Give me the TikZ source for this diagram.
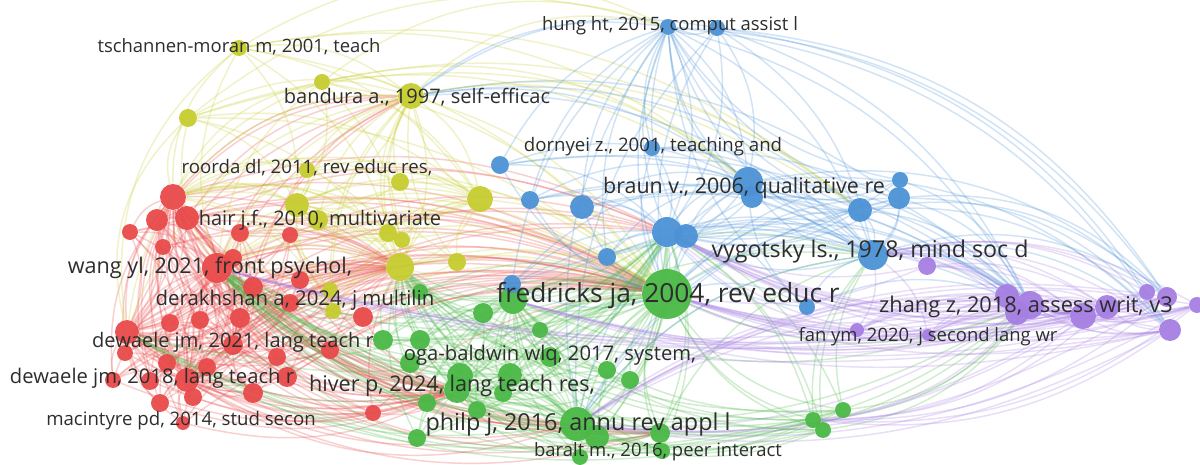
\documentclass[tikz,border=0pt]{standalone}
\usepackage{fontspec}
\setmainfont{Open Sans}
\usetikzlibrary{backgrounds}
\definecolor{rc}{RGB}{232,74,74}
\definecolor{yc}{RGB}{198,204,46}
\definecolor{gc}{RGB}{74,184,70}
\definecolor{bc}{RGB}{76,146,214}
\definecolor{pc}{RGB}{166,126,226}
\definecolor{labc}{RGB}{45,45,45}
\tikzset{
  dot/.style 2 args={circle, inner sep=0pt, minimum size=#2*0.04cm, fill=#1, fill opacity=0.95},
  rn/.style={dot={rc}{#1}},
  yn/.style={dot={yc}{#1}},
  gn/.style={dot={gc}{#1}},
  bn/.style={dot={bc}{#1}},
  pn/.style={dot={pc}{#1}},
  link/.style={draw=#1, draw opacity=0.26, line width=0.85pt},
  lab/.style={font=\fontsize{#1}{#1}\selectfont, text=labc, inner sep=0pt, anchor=center},
}
\begin{document}
\begin{tikzpicture}[x=0.02cm, y=-0.02cm]
\useasboundingbox (0,0) rectangle (1200,465);

% ---------- red cluster ----------
\node[rn=13] (r1) at (173,197) {};
\node[rn=11] (r2) at (157,220) {};
\node[rn=12] (r3) at (187,218) {};
\node[rn=8]  (r4) at (130,232) {};
\node[rn=8]  (r5) at (163,247) {};
\node[rn=9]  (r6) at (240,233) {};
\node[rn=8]  (r7) at (290,235) {};
\node[rn=15] (r8) at (217,268) {};
\node[rn=9]  (r9) at (233,258) {};
\node[rn=10] (r10) at (253,287) {};
\node[rn=9]  (r11) at (300,280) {};
\node[rn=9]  (r12) at (290,303) {};
\node[rn=10] (r13) at (363,317) {};
\node[rn=9]  (r14) at (170,323) {};
\node[rn=9]  (r15) at (200,320) {};
\node[rn=10] (r16) at (240,318) {};
\node[rn=12] (r17) at (127,332) {};
\node[rn=8]  (r18) at (125,353) {};
\node[rn=10] (r19) at (233,345) {};
\node[rn=9]  (r20) at (277,357) {};
\node[rn=9]  (r21) at (330,350) {};
\node[rn=9]  (r22) at (167,363) {};
\node[rn=9]  (r23) at (207,367) {};
\node[rn=8]  (r24) at (113,380) {};
\node[rn=9]  (r25) at (150,381) {};
\node[rn=12] (r26) at (187,380) {};
\node[rn=10] (r27) at (253,393) {};
\node[rn=10] (r28) at (287,377) {};
\node[rn=9]  (r29) at (160,403) {};
\node[rn=9]  (r30) at (193,397) {};
\node[rn=8]  (r31) at (373,413) {};
\node[rn=7]  (r32) at (183,423) {};

% ---------- yellow cluster ----------
\node[yn=8]  (y1) at (239,48) {};
\node[yn=8]  (y2) at (322,82) {};
\node[yn=13] (y3) at (411,96) {};
\node[yn=9]  (y4) at (188,118) {};
\node[yn=8]  (y5) at (307,170) {};
\node[yn=9]  (y6) at (400,182) {};
\node[yn=13] (y7) at (480,199) {};
\node[yn=12] (y8) at (297,205) {};
\node[yn=10] (y9) at (318,220) {};
\node[yn=9]  (y10) at (388,233) {};
\node[yn=8]  (y11) at (402,240) {};
\node[yn=14] (y12) at (400,267) {};
\node[yn=9]  (y13) at (457,262) {};
\node[yn=8]  (y14) at (330,290) {};
\node[yn=8]  (y15) at (333,311) {};

% ---------- green cluster ----------
\node[gn=25] (g1) at (667,294) {};
\node[gn=14] (g2) at (513,300) {};
\node[gn=10] (g3) at (483,313) {};
\node[gn=8]  (g4) at (420,292) {};
\node[gn=10] (g5) at (383,340) {};
\node[gn=10] (g6) at (420,340) {};
\node[gn=10] (g7) at (410,363) {};
\node[gn=13] (g8) at (460,376) {};
\node[gn=13] (g9) at (457,390) {};
\node[gn=12] (g10) at (510,375) {};
\node[gn=9]  (g11) at (503,393) {};
\node[gn=10] (g12) at (550,357) {};
\node[gn=9]  (g13) at (607,370) {};
\node[gn=9]  (g14) at (630,380) {};
\node[gn=9]  (g15) at (427,403) {};
\node[gn=9]  (g16) at (477,410) {};
\node[gn=17] (g17) at (577,424) {};
\node[gn=12] (g18) at (597,437) {};
\node[gn=9]  (g19) at (417,438) {};
\node[gn=10] (g20) at (660,433) {};
\node[gn=8]  (g21) at (662,451) {};
\node[gn=8]  (g22) at (580,457) {};
\node[gn=8]  (g23) at (813,420) {};
\node[gn=8]  (g24) at (823,430) {};
\node[gn=8]  (g25) at (843,410) {};
\node[gn=8]  (g26) at (540,330) {};

% ---------- blue cluster ----------
\node[bn=8]  (b1) at (668,27) {};
\node[bn=8]  (b2) at (717,28) {};
\node[bn=8]  (b3) at (652,148) {};
\node[bn=9]  (b4) at (500,165) {};
\node[bn=9]  (b5) at (530,200) {};
\node[bn=12] (b6) at (582,207) {};
\node[bn=15] (b7) at (748,182) {};
\node[bn=11] (b8) at (752,197) {};
\node[bn=15] (b9) at (667,232) {};
\node[bn=12] (b10) at (686,236) {};
\node[bn=9]  (b11) at (607,257) {};
\node[bn=12] (b12) at (860,210) {};
\node[bn=8]  (b13) at (900,180) {};
\node[bn=11] (b14) at (899,198) {};
\node[bn=15] (b15) at (873,255) {};
\node[bn=8]  (b16) at (807,307) {};
\node[bn=9]  (b17) at (512,284) {};

% ---------- purple cluster ----------
\node[pn=9]  (p1) at (927,266) {};
\node[pn=12] (p2) at (1007,296) {};
\node[pn=14] (p3) at (1030,305) {};
\node[pn=12] (p4) at (1017,313) {};
\node[pn=13] (p5) at (1083,316) {};
\node[pn=12] (p6) at (1107,307) {};
\node[pn=8]  (p7) at (1147,292) {};
\node[pn=10] (p8) at (1167,297) {};
\node[pn=11] (p9) at (1170,330) {};
\node[pn=8]  (p10) at (1197,305) {};
\node[pn=6]  (p11) at (928,335) {};
\node[pn=7]  (p12) at (857,330) {};

% ---------- links, behind the nodes ----------
\begin{pgfonlayer}{background}
% red: every item to the red hubs, then out to the other clusters
\foreach \s in {r1,r2,r3,r4,r5,r6,r7,r8,r9,r10,r11,r12,r13,r14,r15,r16,r17,r18,r19,r20,r21,r22,r23,r24,r25,r26,r27,r28,r29,r30,r31,r32}{
  \foreach \t in {r8,r1,r17,r26,r19}{
    \ifx\s\t\else\draw[link=rc] (\s) to[bend left=22] (\t);\fi
  }
  \draw[link=rc] (\s) to[bend left=18] (y12);
  \draw[link=rc] (\s) to[bend left=20] (g1);
  \draw[link=rc] (g9) to[bend left=20] (\s);
}
\foreach \s in {r1,r3,r8,r17,r26,r19,r10,r2}{
  \draw[link=rc] (\s) to[bend left=25] (y3);
  \draw[link=rc] (\s) to[bend left=22] (b9);
  \draw[link=rc] (g17) to[bend left=25] (\s);
  \draw[link=rc] (g20) to[bend left=22] (\s);
}
% yellow
\foreach \s in {y1,y2,y3,y4,y5,y6,y7,y8,y9,y10,y11,y12,y13,y14,y15}{
  \foreach \t in {y3,y12,y8,y7}{
    \ifx\s\t\else\draw[link=yc] (\s) to[bend left=22] (\t);\fi
  }
  \draw[link=yc] (\s) to[bend left=20] (g1);
  \draw[link=yc] (r8) to[bend left=22] (\s);
  \draw[link=yc] (r1) to[bend left=25] (\s);
}
\foreach \s in {y1,y2,y3,y4}{
  \draw[link=yc] (\s) to[bend left=28] (b1);
  \draw[link=yc] (\s) to[bend left=25] (b7);
  \draw[link=yc] (\s) to[bend left=25] (b12);
  \draw[link=yc] (r17) to[bend left=30] (\s);
}
% green
\foreach \s in {g1,g2,g3,g4,g5,g6,g7,g8,g9,g10,g11,g12,g13,g14,g15,g16,g17,g18,g19,g20,g21,g22,g23,g24,g25,g26}{
  \foreach \t in {g1,g17,g2,g9}{
    \ifx\s\t\else\draw[link=gc] (\s) to[bend left=22] (\t);\fi
  }
  \draw[link=gc] (\s) to[bend left=20] (y12);
  \draw[link=gc] (\s) to[bend left=20] (r8);
  \draw[link=gc] (b9) to[bend left=20] (\s);
}
\foreach \s in {g1,g17,g2,g9,g20,g23,g24,g25}{
  \draw[link=gc] (\s) to[bend left=22] (b15);
  \draw[link=gc] (p3) to[bend left=22] (\s);
  \draw[link=gc] (\s) to[bend left=20] (r17);
}
% blue
\foreach \s in {b1,b2,b3,b4,b5,b6,b7,b8,b9,b10,b11,b12,b13,b14,b15,b16,b17}{
  \foreach \t in {b7,b9,b15,b1}{
    \ifx\s\t\else\draw[link=bc] (\s) to[bend left=22] (\t);\fi
  }
  \draw[link=bc] (g1) to[bend left=20] (\s);
  \draw[link=bc] (\s) to[bend left=22] (p3);
}
\foreach \s in {b1,b2,b7,b12,b14,b15}{
  \draw[link=bc] (\s) to[bend left=25] (p8);
  \draw[link=bc] (\s) to[bend left=25] (p9);
  \draw[link=bc] (g17) to[bend left=22] (\s);
  \draw[link=bc] (y3) to[bend left=22] (\s);
}
% purple
\foreach \s in {p1,p2,p3,p4,p5,p6,p7,p8,p9,p10,p11,p12}{
  \foreach \t in {p3,p5,p6,p2}{
    \ifx\s\t\else\draw[link=pc] (\s) to[bend left=18] (\t);\fi
  }
  \draw[link=pc] (\s) to[bend left=15] (g1);
  \draw[link=pc] (b15) to[bend left=20] (\s);
  \draw[link=pc] (\s) to[bend left=18] (b9);
}
\foreach \s in {p3,p5,p6,p8,p9,p10}{
  \draw[link=pc] (\s) to[bend left=15] (g2);
  \draw[link=pc] (\s) to[bend left=12] (r8);
  \draw[link=pc] (g17) to[bend left=20] (\s);
  \draw[link=pc] (\s) to[bend left=18] (g17);
  \draw[link=pc] (\s) to[bend left=20] (g23);
}
\end{pgfonlayer}

% ---------- labels ----------
\node[lab=10.5] (l-tsch) at (239,47)  {tschannen-moran m, 2001, teach};
\node[lab=11.4] (l-band) at (417,97)  {bandura a., 1997, self-efficac};
\node[lab=10.5] (l-hung) at (670,26)  {hung ht, 2015, comput assist l};
\node[lab=10.6] (l-dorn) at (653,147) {dornyei z., 2001, teaching and};
\node[lab=10.6] (l-roor) at (307,168) {roorda dl, 2011, rev educ res,};
\node[lab=12.2] (l-brau) at (744,188) {braun v., 2006, qualitative re};
\node[lab=11.4] (l-hair) at (320,220) {hair j.f., 2010, multivariate};
\node[lab=13.2] (l-vygo) at (870,251) {vygotsky ls., 1978, mind soc d};
\node[lab=12.3] (l-wang) at (210,268) {wang yl, 2021, front psychol,};
\node[lab=15]   (l-fred) at (668,296) {fredricks ja, 2004, rev educ r};
\node[lab=12.4] (l-zhan) at (1026,307) {zhang z, 2018, assess writ, v3};
\node[lab=11.6] (l-dera) at (295,300) {derakhshan a, 2024, j multilin};
\node[lab=10.5] (l-fan)  at (928,337) {fan ym, 2020, j second lang wr};
\node[lab=11.4] (l-dw21) at (233,342) {dewaele jm, 2021, lang teach r};
\node[lab=11.5] (l-oga)  at (550,355) {oga-baldwin wlq, 2017, system,};
\node[lab=11.5] (l-dw18) at (152,378) {dewaele jm, 2018, lang teach r};
\node[lab=12.3] (l-hive) at (452,386) {hiver p, 2024, lang teach res,};
\node[lab=10.6] (l-maci) at (181,421) {macintyre pd, 2014, stud secon};
\node[lab=13.3] (l-phil) at (578,424) {philp j, 2016, annu rev appl l};
\node[lab=10.5] (l-bara) at (658,452) {baralt m., 2016, peer interact};
\end{tikzpicture}
\end{document}
